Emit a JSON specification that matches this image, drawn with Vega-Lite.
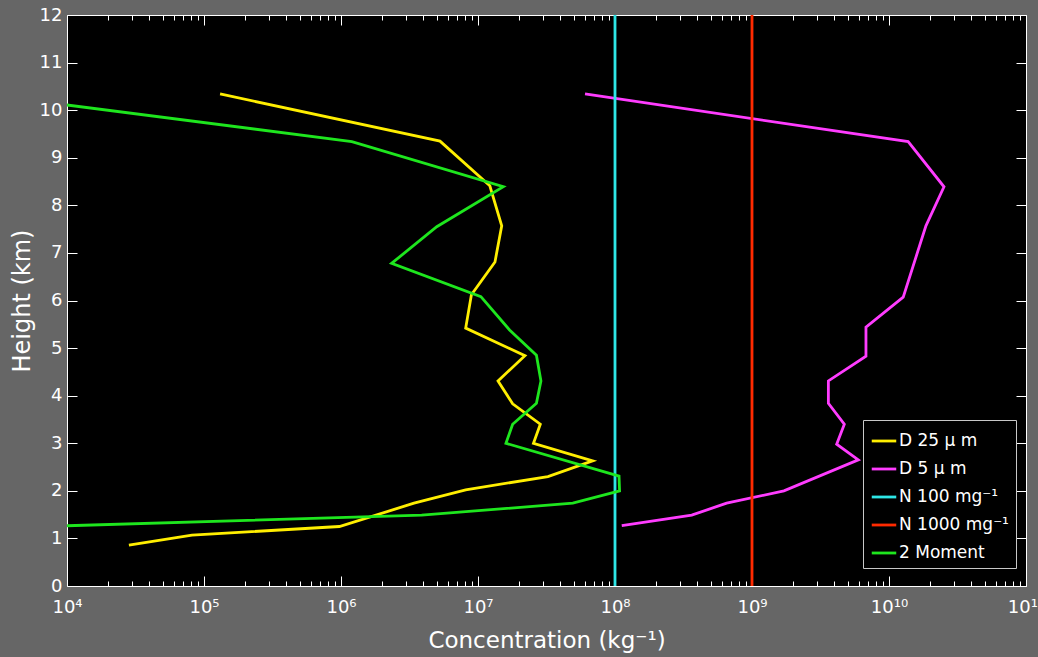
{
  "$schema": "https://vega.github.io/schema/vega-lite/v6.json",
  "width": 959,
  "height": 571,
  "autosize": {"type": "none"},
  "padding": {"left": 67, "top": 15, "right": 12, "bottom": 71},
  "background": "#666666",
  "config": {
    "view": {"fill": "black", "stroke": "white", "strokeWidth": 1},
    "font": "DejaVu Sans"
  },
  "data": {
    "values": [
      {"s": "D 25 μ m", "i": 1, "c": 131000, "h": 10.34},
      {"s": "D 25 μ m", "i": 2, "c": 5280000, "h": 9.35},
      {"s": "D 25 μ m", "i": 3, "c": 12200000, "h": 8.41},
      {"s": "D 25 μ m", "i": 4, "c": 14900000, "h": 7.57},
      {"s": "D 25 μ m", "i": 5, "c": 13300000, "h": 6.81},
      {"s": "D 25 μ m", "i": 6, "c": 8950000, "h": 6.12},
      {"s": "D 25 μ m", "i": 7, "c": 8130000, "h": 5.42},
      {"s": "D 25 μ m", "i": 8, "c": 22000000, "h": 4.84},
      {"s": "D 25 μ m", "i": 9, "c": 14000000, "h": 4.31},
      {"s": "D 25 μ m", "i": 10, "c": 17900000, "h": 3.83},
      {"s": "D 25 μ m", "i": 11, "c": 28500000, "h": 3.40},
      {"s": "D 25 μ m", "i": 12, "c": 25400000, "h": 3.00},
      {"s": "D 25 μ m", "i": 13, "c": 68700000, "h": 2.63},
      {"s": "D 25 μ m", "i": 14, "c": 32400000, "h": 2.30},
      {"s": "D 25 μ m", "i": 15, "c": 8130000, "h": 2.02},
      {"s": "D 25 μ m", "i": 16, "c": 3410000, "h": 1.74},
      {"s": "D 25 μ m", "i": 17, "c": 973000, "h": 1.25},
      {"s": "D 25 μ m", "i": 18, "c": 81700, "h": 1.07},
      {"s": "D 25 μ m", "i": 19, "c": 28300, "h": 0.86},

      {"s": "D 5 μ m", "i": 1, "c": 60400000, "h": 10.34},
      {"s": "D 5 μ m", "i": 2, "c": 13800000000, "h": 9.34},
      {"s": "D 5 μ m", "i": 3, "c": 25200000000, "h": 8.39},
      {"s": "D 5 μ m", "i": 4, "c": 18600000000, "h": 7.57},
      {"s": "D 5 μ m", "i": 5, "c": 12700000000, "h": 6.07},
      {"s": "D 5 μ m", "i": 6, "c": 6790000000, "h": 5.44},
      {"s": "D 5 μ m", "i": 7, "c": 6790000000, "h": 4.83},
      {"s": "D 5 μ m", "i": 8, "c": 3610000000, "h": 4.31},
      {"s": "D 5 μ m", "i": 9, "c": 3610000000, "h": 3.84},
      {"s": "D 5 μ m", "i": 10, "c": 4720000000, "h": 3.40},
      {"s": "D 5 μ m", "i": 11, "c": 4150000000, "h": 2.98},
      {"s": "D 5 μ m", "i": 12, "c": 5970000000, "h": 2.65},
      {"s": "D 5 μ m", "i": 13, "c": 1710000000, "h": 2.00},
      {"s": "D 5 μ m", "i": 14, "c": 653000000, "h": 1.74},
      {"s": "D 5 μ m", "i": 15, "c": 363000000, "h": 1.49},
      {"s": "D 5 μ m", "i": 16, "c": 112000000, "h": 1.27},

      {"s": "N 100 mg⁻¹", "i": 1, "c": 100000000, "h": 0},
      {"s": "N 100 mg⁻¹", "i": 2, "c": 100000000, "h": 12},

      {"s": "N 1000 mg⁻¹", "i": 1, "c": 1000000000, "h": 0},
      {"s": "N 1000 mg⁻¹", "i": 2, "c": 1000000000, "h": 12},

      {"s": "2 Moment", "i": 1, "c": 2370, "h": 10.34},
      {"s": "2 Moment", "i": 2, "c": 1200000, "h": 9.34},
      {"s": "2 Moment", "i": 3, "c": 15300000, "h": 8.39},
      {"s": "2 Moment", "i": 4, "c": 5000000, "h": 7.55},
      {"s": "2 Moment", "i": 5, "c": 2340000, "h": 6.78},
      {"s": "2 Moment", "i": 6, "c": 10500000, "h": 6.08},
      {"s": "2 Moment", "i": 7, "c": 17000000, "h": 5.38},
      {"s": "2 Moment", "i": 8, "c": 26700000, "h": 4.85},
      {"s": "2 Moment", "i": 9, "c": 28800000, "h": 4.31},
      {"s": "2 Moment", "i": 10, "c": 26700000, "h": 3.84},
      {"s": "2 Moment", "i": 11, "c": 17900000, "h": 3.40},
      {"s": "2 Moment", "i": 12, "c": 16000000, "h": 3.00},
      {"s": "2 Moment", "i": 13, "c": 107000000, "h": 2.31},
      {"s": "2 Moment", "i": 14, "c": 108000000, "h": 2.00},
      {"s": "2 Moment", "i": 15, "c": 49200000, "h": 1.74},
      {"s": "2 Moment", "i": 16, "c": 3880000, "h": 1.49},
      {"s": "2 Moment", "i": 17, "c": 6500, "h": 1.25}
    ]
  },
  "resolve": {"axis": {"x": "independent", "y": "independent"}},
  "layer": [
    {
      "mark": {"type": "line", "clip": true},
      "encoding": {
        "x": {
          "field": "c",
          "type": "quantitative",
          "scale": {"type": "log", "domain": [10000, 100000000000], "nice": false},
          "axis": {
            "orient": "bottom",
            "values": [10000,20000,30000,40000,50000,60000,70000,80000,90000,
                       100000,200000,300000,400000,500000,600000,700000,800000,900000,
                       1000000,2000000,3000000,4000000,5000000,6000000,7000000,8000000,9000000,
                       10000000,20000000,30000000,40000000,50000000,60000000,70000000,80000000,90000000,
                       100000000,200000000,300000000,400000000,500000000,600000000,700000000,800000000,900000000,
                       1000000000,2000000000,3000000000,4000000000,5000000000,6000000000,7000000000,8000000000,9000000000,
                       10000000000,20000000000,30000000000,40000000000,50000000000,60000000000,70000000000,80000000000,90000000000,
                       100000000000],
            "labelExpr": "abs(log(datum.value)/LN10 - round(log(datum.value)/LN10)) < 0.001 ? '10' + ['⁰','¹','²','³','⁴','⁵','⁶','⁷','⁸','⁹','¹⁰','¹¹'][round(log(datum.value)/LN10)] : ''",
            "labelOverlap": false,
            "labelFlush": false,
            "domain": false,
            "grid": false,
            "tickColor": "white",
            "tickSize": {"condition": {"test": "abs(log(datum.value)/LN10 - round(log(datum.value)/LN10)) < 0.001", "value": -10}, "value": -5},
            "labelColor": "white",
            "labelFontSize": 18,
            "labelPadding": 22,
            "title": "Concentration (kg⁻¹)",
            "titleColor": "white",
            "titleFontSize": 23,
            "titleFontWeight": "normal",
            "titlePadding": 8
          }
        },
        "y": {
          "field": "h",
          "type": "quantitative",
          "scale": {"domain": [0, 12], "nice": false},
          "axis": {
            "orient": "left",
            "values": [0,1,2,3,4,5,6,7,8,9,10,11,12],
            "domain": false,
            "grid": false,
            "tickColor": "white",
            "tickSize": -10,
            "labelColor": "white",
            "labelFontSize": 18,
            "labelPadding": 15,
            "title": "Height (km)",
            "titleColor": "white",
            "titleFontSize": 24,
            "titleFontWeight": "normal",
            "titlePadding": 5
          }
        },
        "color": {
          "field": "s",
          "type": "nominal",
          "scale": {
            "domain": ["D 25 μ m", "D 5 μ m", "N 100 mg⁻¹", "N 1000 mg⁻¹", "2 Moment"],
            "range": ["#ffee00", "#ff3cff", "#2ee6e6", "#ff2a00", "#1ee61e"]
          },
          "legend": {
            "orient": "none",
            "legendX": 796,
            "legendY": 405,
            "title": null,
            "fillColor": "black",
            "strokeColor": "#c8c8c8",
            "padding": 7,
            "labelColor": "white",
            "labelFontSize": 17,
            "labelOffset": 1,
            "symbolType": "stroke",
            "symbolSize": 600,
            "symbolStrokeWidth": 2,
            "rowPadding": 6
          }
        },
        "strokeWidth": {
          "field": "s",
          "type": "nominal",
          "scale": {
            "domain": ["D 25 μ m", "D 5 μ m", "N 100 mg⁻¹", "N 1000 mg⁻¹", "2 Moment"],
            "range": [2.8, 2.8, 2, 2, 2.8]
          },
          "legend": null
        },
        "order": {"field": "i", "type": "quantitative"}
      }
    },
    {
      "mark": {"type": "point", "opacity": 0},
      "encoding": {
        "x": {
          "field": "c",
          "type": "quantitative",
          "axis": {
            "orient": "top",
            "values": [10000,20000,30000,40000,50000,60000,70000,80000,90000,
                       100000,200000,300000,400000,500000,600000,700000,800000,900000,
                       1000000,2000000,3000000,4000000,5000000,6000000,7000000,8000000,9000000,
                       10000000,20000000,30000000,40000000,50000000,60000000,70000000,80000000,90000000,
                       100000000,200000000,300000000,400000000,500000000,600000000,700000000,800000000,900000000,
                       1000000000,2000000000,3000000000,4000000000,5000000000,6000000000,7000000000,8000000000,9000000000,
                       10000000000,20000000000,30000000000,40000000000,50000000000,60000000000,70000000000,80000000000,90000000000,
                       100000000000],
            "labels": false,
            "domain": false,
            "grid": false,
            "tickColor": "white",
            "tickSize": {"condition": {"test": "abs(log(datum.value)/LN10 - round(log(datum.value)/LN10)) < 0.001", "value": -10}, "value": -5},
            "title": null
          }
        },
        "y": {
          "field": "h",
          "type": "quantitative",
          "axis": {
            "orient": "right",
            "values": [0,1,2,3,4,5,6,7,8,9,10,11,12],
            "labels": false,
            "domain": false,
            "grid": false,
            "tickColor": "white",
            "tickSize": -10,
            "title": null
          }
        }
      }
    }
  ]
}
